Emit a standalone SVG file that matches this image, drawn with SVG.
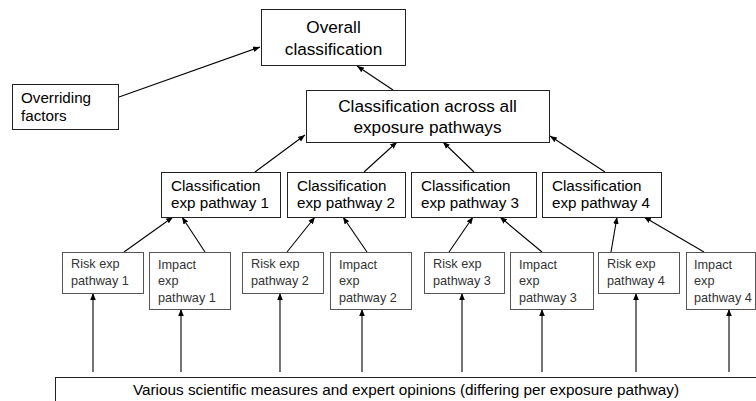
<svg xmlns="http://www.w3.org/2000/svg" width="756" height="401" viewBox="0 0 756 401">
<defs>
<marker id="ah" viewBox="0 0 10 10" refX="10" refY="5" markerWidth="7" markerHeight="7" markerUnits="userSpaceOnUse" orient="auto">
<path d="M0,1 L10,5 L0,9 z" fill="#000"/>
</marker>
</defs>
<style>
.bx{fill:#fff;stroke:#222;stroke-width:1}
.sb{fill:#fff;stroke:#555;stroke-width:1}
.t{font-family:"Liberation Sans",Arial,sans-serif;fill:#000}
.big{font-size:17.2px}
.mid{font-size:15.2px}
.sm{font-size:12.7px;fill:#333}
.c{stroke:#000;stroke-width:1.1;fill:none;marker-end:url(#ah)}
</style>
<rect width="756" height="401" fill="#fff"/>
<g id="connectors">
<line class="c" x1="119" y1="97" x2="260" y2="47"/>
<line class="c" x1="393" y1="90" x2="357" y2="66"/>
<line class="c" x1="255" y1="172" x2="305" y2="135"/>
<line class="c" x1="364" y1="172" x2="397" y2="142"/>
<line class="c" x1="474" y1="172" x2="443" y2="142"/>
<line class="c" x1="605" y1="172" x2="550" y2="136"/>
<line class="c" x1="124" y1="252" x2="173" y2="217"/>
<line class="c" x1="205" y1="252" x2="182" y2="217"/>
<line class="c" x1="287" y1="252" x2="315" y2="217"/>
<line class="c" x1="367" y1="252" x2="343" y2="217"/>
<line class="c" x1="449" y1="252" x2="473" y2="217"/>
<line class="c" x1="542" y1="252" x2="500" y2="217"/>
<line class="c" x1="611" y1="252" x2="617" y2="217"/>
<line class="c" x1="704" y1="252" x2="644" y2="217"/>
<line class="c" x1="93" y1="372" x2="93" y2="293"/>
<line class="c" x1="181" y1="372" x2="181" y2="309"/>
<line class="c" x1="280" y1="372" x2="280" y2="293"/>
<line class="c" x1="362" y1="372" x2="362" y2="309"/>
<line class="c" x1="462" y1="372" x2="462" y2="293"/>
<line class="c" x1="542" y1="372" x2="542" y2="309"/>
<line class="c" x1="636" y1="372" x2="636" y2="293"/>
<line class="c" x1="729" y1="372" x2="729" y2="309"/>
</g>
<g id="overall">
<rect class="bx" x="261.5" y="9.5" width="144" height="56"/>
<text class="t big" x="333.5" y="33" text-anchor="middle">Overall</text>
<text class="t big" x="333.5" y="55" text-anchor="middle">classification</text>
</g>
<g id="overriding">
<rect class="bx" x="12.5" y="84.5" width="106" height="45"/>
<text class="t mid" x="21" y="103">Overriding</text>
<text class="t mid" x="21" y="121">factors</text>
</g>
<g id="across">
<rect class="bx" x="306.5" y="90.5" width="243" height="52"/>
<text class="t big" x="427.5" y="112" text-anchor="middle">Classification across all</text>
<text class="t big" x="427.5" y="133" text-anchor="middle">exposure pathways</text>
</g>
<g id="cls1">
<rect class="bx" x="161.5" y="172.5" width="119" height="45"/>
<text class="t mid" x="171" y="191">Classification</text>
<text class="t mid" x="171" y="208">exp pathway 1</text>
</g>
<g id="cls2">
<rect class="bx" x="287.5" y="172.5" width="118" height="45"/>
<text class="t mid" x="297" y="191">Classification</text>
<text class="t mid" x="297" y="208">exp pathway 2</text>
</g>
<g id="cls3">
<rect class="bx" x="411.5" y="172.5" width="125" height="45"/>
<text class="t mid" x="421" y="191">Classification</text>
<text class="t mid" x="421" y="208">exp pathway 3</text>
</g>
<g id="cls4">
<rect class="bx" x="542.5" y="172.5" width="119" height="45"/>
<text class="t mid" x="552" y="191">Classification</text>
<text class="t mid" x="552" y="208">exp pathway 4</text>
</g>
<g id="risk1">
<rect class="sb" x="62.5" y="252.5" width="81" height="41"/>
<text class="t sm" x="71" y="268">Risk exp</text>
<text class="t sm" x="71" y="285">pathway 1</text>
</g>
<g id="impact1">
<rect class="sb" x="149.5" y="252.5" width="81" height="57"/>
<text class="t sm" x="158" y="269">Impact</text>
<text class="t sm" x="158" y="285">exp</text>
<text class="t sm" x="158" y="302">pathway 1</text>
</g>
<g id="risk2">
<rect class="sb" x="242.5" y="252.5" width="81" height="41"/>
<text class="t sm" x="251" y="268">Risk exp</text>
<text class="t sm" x="251" y="285">pathway 2</text>
</g>
<g id="impact2">
<rect class="sb" x="330.5" y="252.5" width="81" height="57"/>
<text class="t sm" x="339" y="269">Impact</text>
<text class="t sm" x="339" y="285">exp</text>
<text class="t sm" x="339" y="302">pathway 2</text>
</g>
<g id="risk3">
<rect class="sb" x="424.5" y="252.5" width="80" height="41"/>
<text class="t sm" x="433" y="268">Risk exp</text>
<text class="t sm" x="433" y="285">pathway 3</text>
</g>
<g id="impact3">
<rect class="sb" x="510.5" y="252.5" width="83" height="57"/>
<text class="t sm" x="519" y="269">Impact</text>
<text class="t sm" x="519" y="285">exp</text>
<text class="t sm" x="519" y="302">pathway 3</text>
</g>
<g id="risk4">
<rect class="sb" x="598.5" y="252.5" width="81" height="41"/>
<text class="t sm" x="607" y="268">Risk exp</text>
<text class="t sm" x="607" y="285">pathway 4</text>
</g>
<g id="impact4">
<rect class="sb" x="686.5" y="252.5" width="69" height="57"/>
<text class="t sm" x="694" y="269">Impact</text>
<text class="t sm" x="694" y="285">exp</text>
<text class="t sm" x="694" y="302">pathway 4</text>
</g>
<g id="measures">
<rect class="bx" x="55.5" y="377.5" width="720" height="40"/>
<text class="t" font-size="15.3" x="406" y="395" text-anchor="middle">Various scientific measures and expert opinions (differing per exposure pathway)</text>
</g>
</svg>
